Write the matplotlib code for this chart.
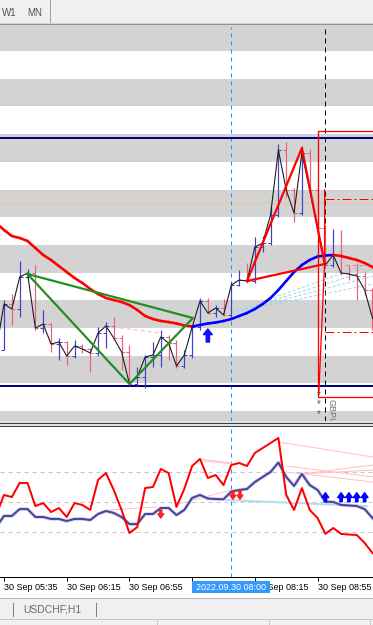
import matplotlib
matplotlib.use("Agg")
import matplotlib.pyplot as plt
import matplotlib.transforms as mtransforms
from matplotlib.patches import Rectangle
from matplotlib.collections import LineCollection
import numpy as np

plt.rcParams['font.family'] = ['Liberation Sans', 'DejaVu Sans']

# ---------------- data ----------------
# 5-minute bars, index 0 = 30 Sep 05:35 ; main-chart prices in screen-scale units (larger = lower)
bar_idx = list(range(-1, 49))
closes = [350, 304, 309, 277, 273, 328, 324, 344, 342, 356, 346, 349, 353, 333, 326, 338, 352,
          384, 377, 357, 355, 337, 343, 366, 355, 327, 301, 313, 308, 315, 285, 280, 281, 247,
          243, 215, 150, 190, 213, 153, 190, 228, 265, 255, 273, 274, 276, 290, 318, 330]
opens = [356, 350, 304, 309, 277, 273, 328, 324, 344, 342, 356, 346, 349, 353, 333, 326, 338,
         352, 384, 377, 357, 355, 337, 343, 366, 355, 327, 301, 313, 308, 315, 285, 280, 281,
         247, 243, 215, 150, 190, 213, 153, 190, 228, 265, 255, 273, 274, 276, 290, 318]
highs = [345, 300, 294, 261, 269, 265, 310, 323, 338, 341, 340, 344, 348, 327, 322, 317, 335,
         345, 367, 355, 342, 330, 335, 340, 350, 325, 298, 298, 305, 299, 282, 270, 263, 237,
         236, 207, 144, 142, 188, 146, 149, 188, 225, 229, 230, 265, 263, 272, 288, 300]
lows = [360, 350, 325, 317, 280, 330, 333, 352, 360, 365, 358, 353, 372, 356, 348, 340, 370,
        385, 386, 388, 367, 367, 360, 368, 368, 358, 330, 314, 317, 316, 318, 286, 283, 283,
        252, 245, 217, 197, 222, 215, 195, 232, 268, 267, 275, 280, 300, 295, 330, 340]
ma_line = [223, 230, 236, 238, 241, 248, 255, 260, 266, 272, 278, 283, 289, 294, 298, 300, 302,
           305, 310, 316, 319, 321, 322, 323.5, 325.5, 326.5, 325, 323.5, 322.5, 321, 319, 316,
           313, 309, 304, 298, 290, 281, 272, 265, 260, 256.5, 255.5, 255, 256, 258, 260, 263,
           267, 271]
# oscillator sub-window (0..100)
osc_main = [41.3, 54.7, 53.3, 62.7, 62.7, 47.3, 49.3, 43.3, 46, 40, 49.3, 48, 44.7, 64.7, 69.3,
            58, 44.7, 29.3, 33.3, 59.3, 60, 72, 69.3, 46.7, 58.7, 74, 78.7, 66, 68, 61.3, 74.7,
            76, 74, 82.7, 86, 89.3, 92.7, 54.7, 44.7, 59.3, 44.7, 39.3, 28.7, 32.7, 28.7, 28.3,
            28, 22.7, 16, 11.3]
osc_signal = [33.3, 40.7, 40.7, 45.3, 45.3, 40, 40, 38.7, 38.7, 37.3, 38.7, 38.7, 38, 42, 44,
              42.7, 40, 35.3, 35.3, 42, 42, 46, 46, 41.3, 44.7, 52.7, 54.7, 52.3, 52, 51.8, 57,
              58, 58.7, 63.3, 66.7, 70, 76.3, 66.7, 60.7, 68.7, 61.3, 58, 50.2, 50, 48, 47.7,
              47.3, 45.3, 39.3, 34.7]
osc_levels = [30, 50, 70]

tick_pos = [0, 8, 16, 24, 32, 40]
tick_labels = ['30 Sep 05:35', '30 Sep 06:15', '30 Sep 06:55', '',
               '30 Sep 08:15', '30 Sep 08:55']
cursor_bar = 29
cursor_label = '2022.09.30 08:00'
now_bar = 41

# drawn objects (bar index, price)
navy_levels = [137.7, 385.7]
orange_level = 203
red_dashdot_levels = [199, 332]
green_tri_x = [3, 24.1, 16, 3]
green_tri_y = [274, 318, 384, 274]
red_tri_x = [31, 38, 40.9, 31]
red_tri_y = [281, 148, 264, 281]
box_x = [48, 40.05, 40.05, 48]
box_y = [131, 131, 397, 397]
box_slant_x = [40.9, 40.9, 40.15]
box_slant_y = [190, 262, 394]

# ---------------- figure ----------------
W, H = 373, 625
PX = 0.72  # one pixel in points at 100 dpi
fig = plt.figure(figsize=(W / 100, H / 100), dpi=100)
fig.patch.set_facecolor('white')


def rect(x0, y0, x1, y1):
    return [x0 / W, 1 - y1 / H, (x1 - x0) / W, (y1 - y0) / H]


bg = fig.add_axes([0, 0, 1, 1], zorder=0)
bg.set_xlim(0, W)
bg.set_ylim(H, 0)
bg.axis('off')
# top toolbar
bg.add_patch(Rectangle((0, 0), W, 23, color='#f0f0f0', lw=0))
bg.plot([49.5, 49.5], [0, 22], color='#a0a0a0', lw=PX)
bg.text(9, 12.5, 'W1', fontsize=7, color='#505050', ha='center', va='center')
bg.text(34.5, 12.5, 'MN', fontsize=7, color='#505050', ha='center', va='center')
bg.add_patch(Rectangle((0, 23), W, 4, color='#d4d4d4', lw=0))
bg.plot([0, W], [23.5, 23.5], color='#909090', lw=PX)
bg.plot([0, W], [26.5, 26.5], color='#606060', lw=PX)
# separator between panes
bg.add_patch(Rectangle((0, 421), W, 6, color='#e0e0e0', lw=0))
bg.plot([0, W], [423, 423], color='#404040', lw=PX)
bg.plot([0, W], [425.5, 425.5], color='#404040', lw=PX)
# bottom tab bar
bg.add_patch(Rectangle((0, 598), W, 27, color='#f0f0f0', lw=0))
bg.plot([0, W], [598, 598], color='#b4b4b4', lw=PX)
bg.plot([13, 13], [603, 616], color='#808080', lw=PX)
bg.plot([96, 96], [603, 616], color='#808080', lw=PX)
bg.text(52.5, 609.5, 'USDCHF,H1', fontsize=7.5, color='#6a6a6a', ha='center', va='center')
bg.plot([0, W], [618.5, 618.5], color='#c8c8c8', lw=PX)
for xv in (157, 269, 370):
    bg.plot([xv, xv], [618.5, 625], color='#c8c8c8', lw=PX)

XL = (-0.51, 47.07)
k = np.array(bar_idx, dtype=float)

# ---------------- main chart ----------------
ax1 = fig.add_axes(rect(0, 27, W, 421), zorder=2)
ax1.set_xlim(*XL)
ax1.set_ylim(421, 27)
for s in ax1.spines.values():
    s.set_visible(False)
ax1.set_xticks([])
ax1.set_yticks([])
for y0 in np.arange(23, 421, 55.5):
    ax1.axhspan(y0, y0 + 27.5, color='#d3d3d3', lw=0, zorder=0)
ax1.axhline(orange_level, color='#e9c69e', lw=PX, zorder=1)
for lv in navy_levels:
    ax1.axhline(lv, color='#000080', lw=2 * PX, zorder=3)
ax1.axvline(cursor_bar, color='#1e90ff', lw=PX, ls=(0, (4, 4)), zorder=1)
ax1.axvline(now_bar, color='black', lw=PX, ls=(0, (5, 4)), zorder=1)
ax1.hlines(red_dashdot_levels, now_bar, 48, colors='red', lw=PX,
           linestyles=[(0, (9, 3, 2, 3))], zorder=3)

# light fan / helper lines
for yend, ystart, kstart in [(262, 313, 29), (269, 312, 29.6), (276, 311, 30.2), (284, 310, 30.8)]:
    ax1.plot([kstart, 47.1], [ystart, yend], color='#9fd3f0', lw=PX, ls=(0, (3, 2)), zorder=2)
ax1.plot([13.9, 19.9], [327, 333], color='#ffb6c1', lw=PX, ls=(0, (4, 3)), zorder=2)
ax1.plot([43.5, 47.1], [265, 265], color='#f08090', lw=PX, ls=(0, (4, 3)), zorder=2)

# OHLC bars
up = [c < o for c, o in zip(closes, opens)]
cols = ['#4040c8' if u else '#e8607c' for u in up]
ax1.vlines(k, highs, lows, colors=cols, lw=1.2 * PX, zorder=4)
ax1.hlines(opens, k - 0.38, k, colors=cols, lw=PX, zorder=4)
ax1.hlines(closes, k, k + 0.38, colors=cols, lw=PX, zorder=4)
ax1.plot(k, closes, color='#1c1c1c', lw=1.1 * PX, zorder=5)

# two-colour moving average
pts = np.column_stack([k, ma_line])
segs = np.stack([pts[:-1], pts[1:]], axis=1)
mcols = ['#ff0000' if ma_line[i + 1] > ma_line[i] else '#0000ff' for i in range(len(ma_line) - 1)]
ax1.add_collection(LineCollection(segs, colors=mcols, lw=2.6 * PX, zorder=6, capstyle='round'))

# objects
ax1.plot(green_tri_x, green_tri_y, color='#1f8f1f', lw=2.2 * PX, zorder=7)
ax1.plot(red_tri_x, red_tri_y, color='#ff0000', lw=2.2 * PX, zorder=7)
ax1.plot(box_x, box_y, color='#ff0000', lw=1.3 * PX, zorder=7)
ax1.plot(box_slant_x, box_slant_y, color='#ff0000', lw=1.3 * PX, zorder=7)

ax1.annotate('', xy=(26, 329), xytext=(26, 342),
             arrowprops=dict(arrowstyle='simple,head_length=0.5,head_width=0.8,tail_width=0.3',
                             color='#1010ff', mutation_scale=8, shrinkA=0, shrinkB=0), zorder=8)
for yy in (395, 404.5, 414):
    ax1.text(40.2, yy, '*', fontsize=7, color='#505050', ha='center', va='center', zorder=8)
ax1.text(41.75, 399, 'GBPUSD', fontsize=6.5, color='#707070', rotation=-90,
         ha='center', va='top', zorder=8, clip_on=True)

# ---------------- oscillator window ----------------
ax2 = fig.add_axes(rect(0, 427, W, 577), zorder=2)
ax2.set_xlim(*XL)
ax2.set_ylim(0, 100)
for name, s in ax2.spines.items():
    s.set_visible(name == 'bottom')
ax2.spines['bottom'].set_color('black')
ax2.spines['bottom'].set_linewidth(PX)
ax2.set_yticks([])
for lv in osc_levels:
    ax2.axhline(lv, color='#c4c4c4', lw=PX, ls=(0, (4, 4)), zorder=1)
ax2.axvline(cursor_bar, color='#1e90ff', lw=PX, ls=(0, (4, 4)), zorder=1)

ax2.plot([28.4, 46.3], [51.3, 47.3], color='#b4ddee', lw=2 * PX, zorder=2)
for xs, ys in [([13.5, 19.5], [44.7, 46.7]), ([25, 29], [78.7, 76]), ([25, 29], [77.5, 75.5]),
               ([22.5, 29], [49, 58]), ([38, 47.1], [68.7, 74.7]), ([38, 47.1], [68.7, 71.3]),
               ([36, 47.1], [70, 63.3]), ([36, 47.1], [74, 66.7]), ([35, 47.1], [90, 80])]:
    ax2.plot(xs, ys, color='#ffc0c8', lw=PX, zorder=2)

ax2.plot(k, osc_signal, color='#cdcdec', lw=3.5 * PX, zorder=3, solid_capstyle='round')
ax2.plot(k, osc_signal, color='#46469a', lw=2 * PX, zorder=4)
ax2.plot(k, osc_main, color='#ff0000', lw=2 * PX, zorder=5)

small = 'simple,head_length=0.5,head_width=0.7,tail_width=0.25'
for kk, tip, tail in [(20, 39.3, 44.7), (29.2, 51.8, 57.5), (30.1, 51.8, 57.5)]:
    ax2.annotate('', xy=(kk, tip), xytext=(kk, tail),
                 arrowprops=dict(arrowstyle=small, color='#ff2020', mutation_scale=6,
                                 shrinkA=0, shrinkB=0), zorder=6)
for kk in (41, 43, 44, 45, 46):
    ax2.annotate('', xy=(kk, 56.2), xytext=(kk, 50.2),
                 arrowprops=dict(arrowstyle=small, color='#0000ff', mutation_scale=7,
                                 shrinkA=0, shrinkB=0), zorder=6)

# time axis
ax2.set_xticks(tick_pos)
ax2.set_xticklabels(tick_labels)
ax2.tick_params(axis='x', length=3, width=PX, pad=1.5, labelsize=6.5, colors='black', direction='out')
for lab in ax2.get_xticklabels():
    lab.set_ha('left')
blend = mtransforms.blended_transform_factory(ax2.transData, ax2.transAxes)
half = 39 / 7.84
ax2.add_patch(Rectangle((cursor_bar - half, -0.107), 2 * half, 0.08, transform=blend,
                        color='#3399ff', lw=0, clip_on=False, zorder=10))
ax2.text(cursor_bar, -0.067, cursor_label, transform=blend, color='white', fontsize=6.5,
         ha='center', va='center', zorder=11, clip_on=False)

fig.savefig('out.png', dpi=100)
